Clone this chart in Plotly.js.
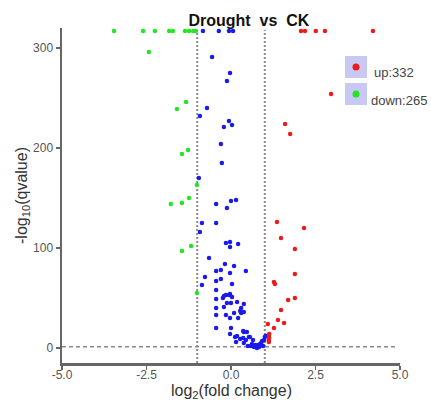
<!DOCTYPE html>
<html><head><meta charset="utf-8">
<script src="https://cdn.plot.ly/plotly-3.0.1.min.js"></script>
<style>html,body{margin:0;padding:0;background:#fff;}#chart{width:431px;height:400px;}</style>
</head><body><div id="chart"></div>
<script>
// Data (log2 fold change, -log10 qvalue)
var upX = [2.07,2.19,2.51,2.78,4.20,2.96,1.60,1.75,1.36,2.16,1.48,1.89,1.89,1.27,1.30,1.69,1.89,1.48,1.39,1.57,1.09,1.27,1.12,1.12,1.13,1.12,1.13];
var upY = [317,317,317,317,317,254,224,214,126,120,110,99,74,66,64,48,50,38,28,25,24,20,6,8,10,12,14];

var downX = [-3.46,-2.60,-2.25,-1.83,-1.72,-1.36,-1.24,-1.12,-1.04,-2.43,-1.33,-1.60,-1.27,-1.45,-1.01,-1.24,-1.45,-1.78,-1.18,-1.45,-1.01];
var downY = [317,317,317,317,317,317,317,317,317,296,246,239,198,194,163,150,145,144,102,97,55];

var nsX = [-0.83,-0.36,-0.06,0.06,-0.56,-0.03,-0.12,-0.71,-0.92,-0.06,-0.21,0.03,
  -0.30,-0.27,-0.95,-0.44,0.00,0.15,-0.12,-0.86,-0.44,
  -0.92,-0.15,-0.03,-0.03,0.21,-0.65,-0.18,0.09,-0.44,-0.30,0.44,-0.03,-0.77,-0.44,-0.30,-0.86,0.03,
  -0.44,-0.15,-0.03,-0.44,-0.24,0.00,-0.12,0.18,0.38,-0.44,-0.21,0.30,
  -0.21,-0.06,0.03,0.30,0.38,-0.44,-0.15,0.09,-0.03,0.21,0.27,
  -0.44,0.00,-0.03,0.12,0.18,0.36,0.47,0.38,0.27,0.15,0.36,0.44,0.56,0.53,0.65,0.38,0.50,0.59,0.68,
  0.77,0.80,0.86,0.89,0.92,0.95,0.98,1.00,0.83,0.62,0.72,1.03];
var nsY = [317,317,317,317,291,275,267,240,232,227,221,223,
  204,185,170,144,147,148,140,125,125,
  116,105,106,101,104,90,84,82,77,78,77,75,71,67,69,63,64,
  58,53,54,49,50,45,45,46,44,40,41,40,
  52,53,51,35,36,33,33,35,30,30,37,
  20,20,14,11,12,10,16,16,9,6,17,8,11,11,8,5,2,2,1,
  0,3,4,5,7,2,8,11,1,4,3,12];

var legendLabels = ['up:332','down:265'];
var xTitle = 'log<sub>2</sub>(fold change)';
var xTickVals = [-5,-2.5,0,2.5,5];
var xTickText = ['-5.0','-2.5','0.0','2.5','5.0'];
var yTickVals = [0,100,200,300];

function pts(x,y,color,name){
  return {type:'scatter',mode:'markers',x:x,y:y,name:name,
    marker:{color:color,size:4.5,line:{width:0}},hoverinfo:'x+y'};
}
var data = [
  pts(nsX,nsY,'#1a1aee','no'),
  pts(downX,downY,'#22e622','down'),
  pts(upX,upY,'#ee1a1a','up')
];

function px2x(p){return (p-62)/338;}
function px2y(p){return (363-p)/335;}

var shapes = [
  {type:'line',xref:'x',yref:'paper',x0:-1,x1:-1,y0:0,y1:px2y(30),line:{color:'#8a8a8a',width:2,dash:'2px,2px'},layer:'below'},
  {type:'line',xref:'x',yref:'paper',x0:1,x1:1,y0:0,y1:px2y(30),line:{color:'#8a8a8a',width:2,dash:'2px,2px'},layer:'below'},
  {type:'line',xref:'paper',yref:'y',x0:0,x1:px2x(398),y0:1.3,y1:1.3,line:{color:'#8a8a8a',width:1.5,dash:'4px,3px'},layer:'below'},
  // legend boxes
  {type:'rect',xref:'paper',yref:'paper',x0:px2x(345),x1:px2x(367),y0:px2y(78),y1:px2y(56),fillcolor:'#c8c8f2',line:{width:0}},
  {type:'rect',xref:'paper',yref:'paper',x0:px2x(345),x1:px2x(367),y0:px2y(105),y1:px2y(83),fillcolor:'#c8c8f2',line:{width:0}},
  {type:'circle',xref:'paper',yref:'paper',x0:px2x(352.5),x1:px2x(359.5),y0:px2y(70.5),y1:px2y(63.5),fillcolor:'#ee1a1a',line:{width:0}},
  {type:'circle',xref:'paper',yref:'paper',x0:px2x(352.5),x1:px2x(359.5),y0:px2y(97.5),y1:px2y(90.5),fillcolor:'#22e622',line:{width:0}}
];

var annotations = [
  {xref:'paper',yref:'paper',x:px2x(372),y:px2y(72),xanchor:'left',yanchor:'middle',showarrow:false,text:legendLabels[0],font:{family:'Liberation Sans, Arial, sans-serif',size:13,color:'#444'}},
  {xref:'paper',yref:'paper',x:px2x(369),y:px2y(100),xanchor:'left',yanchor:'middle',showarrow:false,text:legendLabels[1],font:{family:'Liberation Sans, Arial, sans-serif',size:13,color:'#444'}},
  {xref:'paper',yref:'paper',x:0.5,y:px2y(391),xanchor:'center',yanchor:'middle',showarrow:false,text:xTitle,font:{family:'Liberation Sans, Arial, sans-serif',size:16,color:'#333'}}
];

var layout = {
  width:431,height:400,
  margin:{l:62,r:31,t:28,b:37,pad:0},
  paper_bgcolor:'#fff',plot_bgcolor:'#fff',
  showlegend:false,
  font:{family:'Liberation Sans, Arial, sans-serif',color:'#444'},
  title:{text:'<b>Drought\u00a0\u00a0vs\u00a0\u00a0CK</b>',xref:'paper',x:0.553,xanchor:'center',yref:'container',y:0.95,yanchor:'middle',
    font:{family:'Liberation Sans, Arial, sans-serif',size:16,color:'#111'}},
  xaxis:{range:[-5,5],showgrid:false,zeroline:false,showline:true,linecolor:'#666',linewidth:2.5,
    ticks:'outside',ticklen:4,tickwidth:1.5,tickcolor:'#666',ticklabelstandoff:-5,
    tickvals:xTickVals,ticktext:xTickText,tickfont:{size:12,color:'#555'}},
  yaxis:{range:[-15,320],showgrid:false,zeroline:false,showline:true,linecolor:'#666',linewidth:2.5,
    ticks:'outside',ticklen:4,tickwidth:1.5,tickcolor:'#666',
    tickvals:yTickVals,tickfont:{size:12,color:'#555'},
    title:{text:'-log<sub>10</sub>(qvalue)',standoff:2,font:{size:16,color:'#333'}}},
  shapes:shapes,
  annotations:annotations
};
Plotly.newPlot('chart',data,layout,{displayModeBar:false,staticPlot:true});
</script></body></html>
